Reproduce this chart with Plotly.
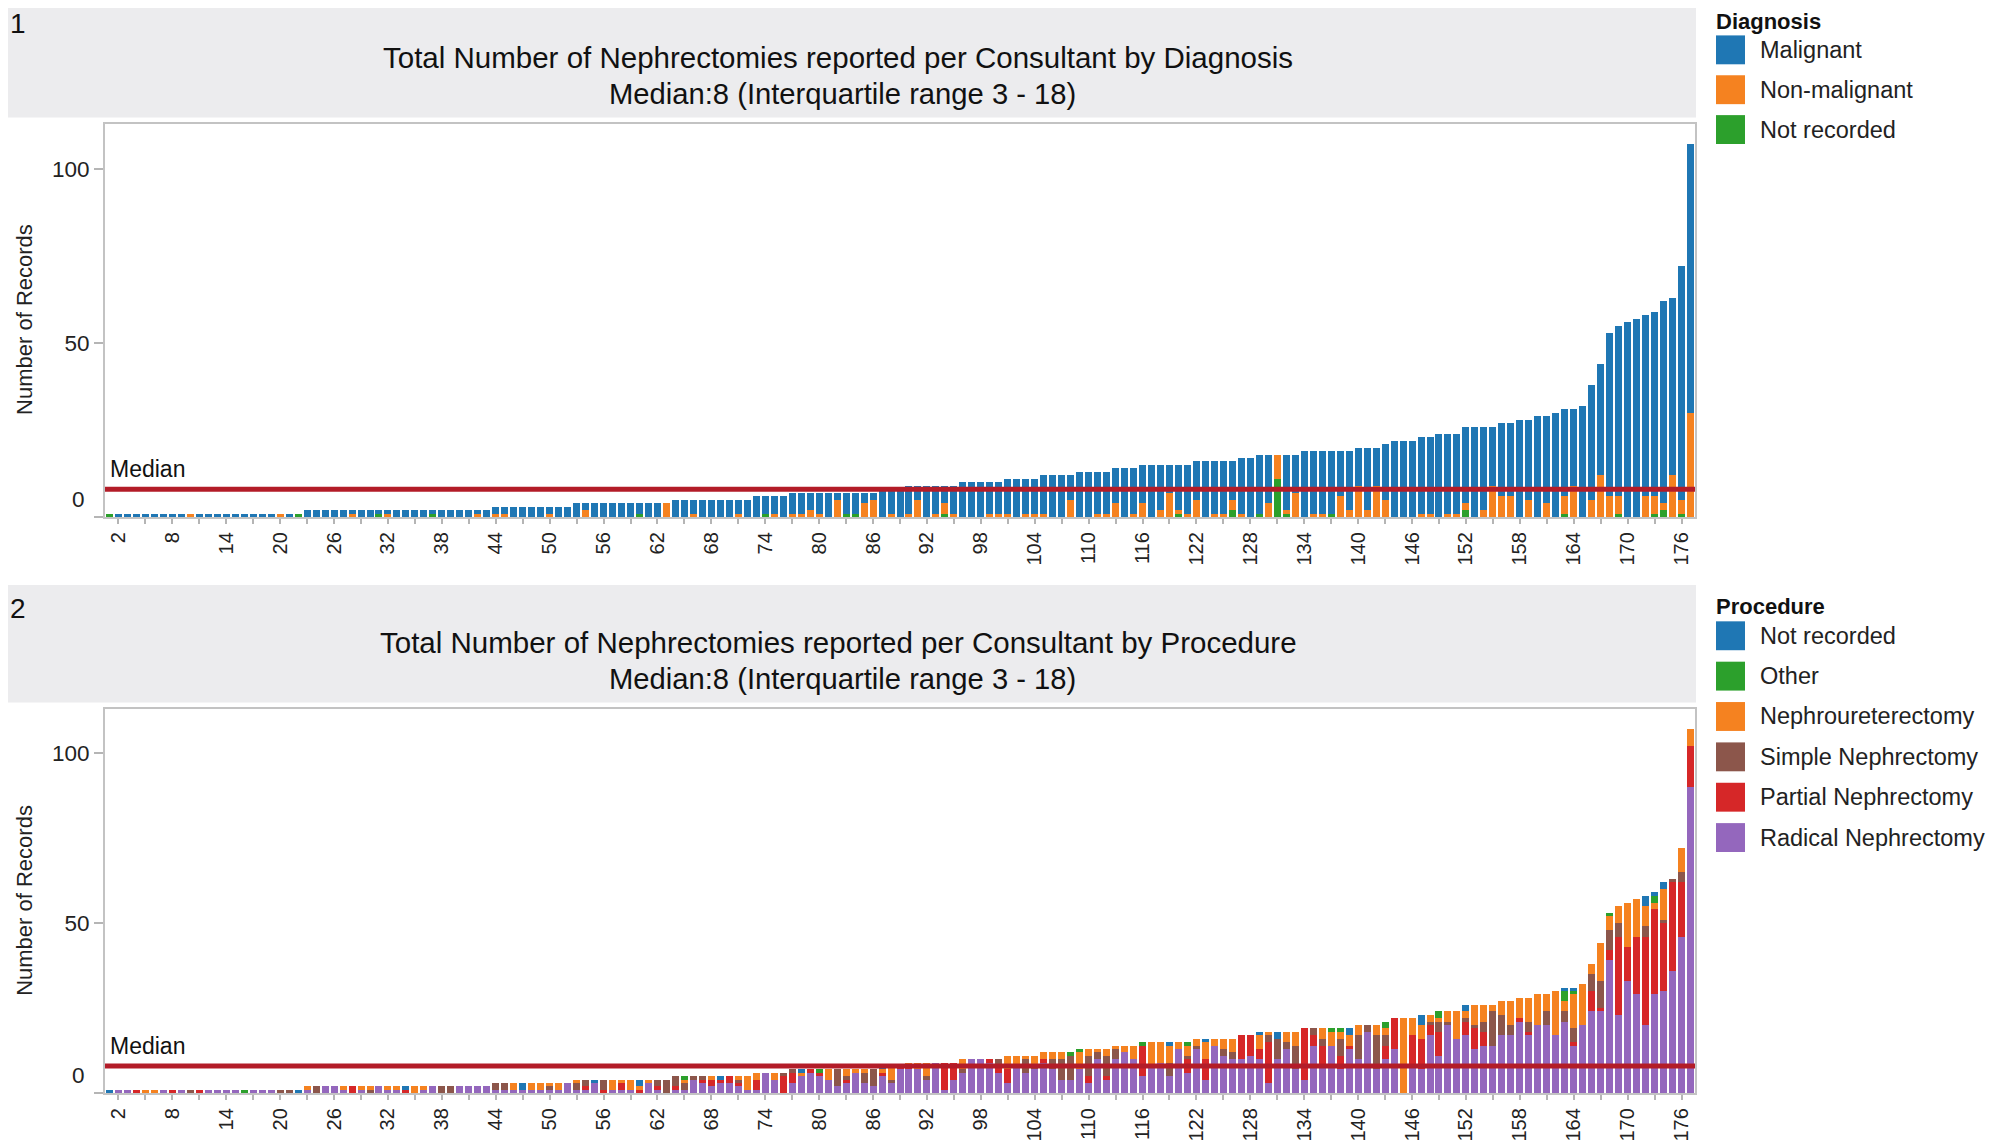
import plotly.graph_objects as go

# page is 2002x1142; the html body has an 8px margin, so the figure is 1994x1134
FW, FH = 1994, 1134
OFF = 8

consultants = list(range(1, 178))

# ---- Chart 1: by diagnosis ----
malignant = [
0,1,1,1,1,1,1,1,1,0,
1,1,1,1,1,1,1,1,1,0,
1,0,2,2,2,2,2,1,2,2,
1,1,2,2,2,2,1,2,2,2,
2,1,2,2,2,3,3,3,3,2,
3,3,4,2,4,4,4,4,4,3,
4,4,0,5,5,4,5,5,5,5,
4,5,6,5,5,6,6,6,5,6,
7,2,6,6,3,2,8,7,8,8,
4,9,8,5,8,10,10,10,9,9,
10,11,10,10,11,12,12,7,13,13,
12,12,10,14,13,11,15,13,8,13,
14,11,16,15,15,11,16,17,17,14,
0,16,11,19,18,18,18,13,17,11,
18,11,16,22,22,22,22,22,24,23,
23,22,26,24,17,21,21,28,23,29,
25,30,25,22,32,33,32,47,49,56,
57,52,53,58,51,67,77]

non_malignant = [
0,0,0,0,0,0,0,0,0,1,
0,0,0,0,0,0,0,0,0,1,
0,0,0,0,0,0,0,1,0,0,
0,1,0,0,0,0,0,0,0,0,
0,1,0,1,1,0,0,0,0,1,
0,0,0,2,0,0,0,0,0,0,
0,0,4,0,0,1,0,0,0,0,
1,0,0,0,1,0,1,1,2,1,
0,5,0,0,4,5,0,1,0,1,
5,0,1,3,1,0,0,0,1,1,
1,0,1,1,1,0,0,5,0,0,
1,1,4,0,1,4,0,2,7,1,
1,5,0,1,1,3,1,0,0,4,
7,1,7,0,1,1,0,6,2,9,
2,9,5,0,0,0,1,1,0,1,
1,2,0,2,9,6,6,0,5,0,
4,0,5,9,0,5,12,6,5,0,
0,6,5,2,12,4,30]

not_recorded_dx = [
1,0,0,0,0,0,0,0,0,0,
0,0,0,0,0,0,0,0,0,0,
0,1,0,0,0,0,0,0,0,0,
1,0,0,0,0,0,1,0,0,0,
0,0,0,0,0,0,0,0,0,0,
0,0,0,0,0,0,0,0,0,1,
0,0,0,0,0,0,0,0,0,0,
0,0,0,1,0,0,0,0,0,0,
0,0,1,1,0,0,0,0,0,0,
0,0,0,1,0,0,0,0,0,0,
0,0,0,0,0,0,0,0,0,0,
0,0,0,0,0,0,0,0,0,1,
0,0,0,0,0,2,0,0,1,0,
11,1,0,0,0,0,1,0,0,0,
0,0,0,0,0,0,0,0,0,0,
0,2,0,0,0,0,0,0,0,0,
0,0,1,0,0,0,0,0,1,0,
0,0,1,2,0,1,0]

# ---- Chart 2: by procedure ----
radical = [
0,1,1,0,0,0,1,0,1,0,
0,1,1,1,1,0,1,1,1,0,
0,0,1,0,2,2,1,0,1,0,
2,1,1,0,0,1,2,0,0,2,
2,2,2,1,1,1,1,1,1,1,
1,3,1,1,3,0,1,1,1,0,
3,1,0,1,1,4,3,2,3,3,
2,1,1,6,4,0,3,5,6,5,
4,2,3,6,3,2,5,3,7,7,
7,4,9,1,4,6,10,10,9,6,
3,8,6,7,9,7,4,4,7,3,
10,4,10,12,10,5,8,9,5,13,
6,13,4,14,11,10,10,11,10,3,
10,13,7,4,14,8,14,7,13,10,
18,7,10,13,0,8,7,17,11,20,
16,17,13,14,14,17,17,21,17,20,
20,17,21,14,20,24,24,39,23,33,
29,20,29,30,36,46,90]

partial = [
0,0,0,1,0,0,0,1,0,0,
1,0,0,0,0,0,0,0,0,0,
0,0,0,0,0,0,0,2,0,0,
0,0,0,1,0,0,0,0,0,0,
0,0,0,0,0,0,0,0,0,0,
0,0,0,1,0,1,0,2,0,1,
0,1,0,1,0,0,1,2,1,2,
1,0,3,0,0,5,3,0,1,1,
0,0,1,0,0,0,1,0,1,1,
0,0,0,8,5,0,0,0,1,2,
4,0,0,0,1,0,0,0,0,2,
0,1,0,0,0,9,0,0,0,0,
4,0,6,0,0,0,7,6,3,12,
0,0,0,15,3,6,0,4,1,0,
0,0,4,9,0,9,9,3,7,0,
0,4,6,4,0,0,0,1,1,0,
0,0,0,1,0,6,1,3,23,10,
17,26,25,20,26,16,12]

simple = [
0,0,0,0,0,0,0,0,0,1,
0,0,0,0,0,0,0,0,0,1,
1,0,0,2,0,0,0,0,0,1,
0,0,0,0,0,0,0,2,2,0,
0,0,0,2,2,0,0,0,0,1,
0,0,2,2,0,3,0,0,0,0,
0,2,4,3,2,1,1,0,0,0,
1,0,0,0,0,1,1,0,0,0,
0,5,1,0,3,5,0,1,0,0,
0,1,0,0,0,1,0,0,0,2,
0,0,4,1,0,3,6,7,0,6,
2,6,3,0,0,0,0,0,4,0,
1,1,0,0,2,2,0,0,0,2,
6,2,7,0,2,2,0,5,0,7,
2,10,3,0,0,0,0,1,3,1,
0,1,1,3,10,6,3,0,3,0,
4,0,3,4,0,5,8,6,4,0,
0,3,0,1,1,3,0]

nephroureterectomy = [
0,0,0,0,1,1,0,0,0,0,
0,0,0,0,0,0,0,0,0,0,
0,0,1,0,0,0,1,0,1,1,
0,1,1,0,2,1,0,0,0,0,
0,0,0,0,0,2,0,2,2,1,
2,0,1,0,0,0,3,1,3,1,
1,0,0,0,1,0,0,1,0,0,
1,4,2,0,2,0,0,1,0,0,
3,0,2,1,1,0,1,4,0,1,
2,4,0,0,0,3,0,0,0,0,
4,3,1,3,2,2,2,0,5,2,
1,2,1,2,4,0,7,6,5,2,
3,2,5,2,3,4,0,0,4,1,
0,3,4,0,0,3,4,2,3,3,
0,3,2,0,22,5,4,2,1,3,
8,2,6,5,2,4,7,6,7,9,
5,13,3,10,12,3,11,4,5,13,
11,6,2,9,0,7,5]

other = [
0,0,0,0,0,0,0,0,0,0,
0,0,0,0,0,1,0,0,0,0,
0,0,0,0,0,0,0,0,0,0,
0,0,0,0,0,0,0,0,0,0,
0,0,0,0,0,0,0,0,0,0,
0,0,0,0,0,0,0,0,0,0,
0,0,0,0,1,0,0,0,0,0,
0,0,0,0,0,0,0,0,0,1,
0,0,0,0,0,0,0,0,0,0,
0,0,0,0,0,0,0,0,0,0,
0,0,0,0,0,0,0,1,1,0,
0,0,0,0,0,1,0,0,0,0,
1,0,0,0,0,0,0,0,0,0,
0,0,0,0,0,0,1,1,0,0,
0,0,2,0,0,0,0,0,2,0,
0,0,0,0,0,0,0,0,0,0,
0,0,3,1,0,0,0,1,0,0,
0,0,2,0,0,0,0]

not_recorded_proc = [
1,0,0,0,0,0,0,0,0,0,
0,0,0,0,0,0,0,0,0,0,
0,1,0,0,0,0,0,0,0,0,
0,0,0,1,0,0,0,0,0,0,
0,0,0,0,0,0,2,0,0,0,
0,0,0,0,1,0,0,0,0,2,
0,0,0,0,0,0,0,0,1,0,
0,0,0,0,0,0,0,1,0,0,
0,0,0,0,0,0,1,0,0,0,
0,0,0,0,0,0,0,0,0,0,
0,0,0,0,0,0,0,0,0,0,
0,0,0,0,0,0,0,0,1,0,
0,0,1,0,0,0,0,0,1,0,
2,0,0,0,0,0,0,0,2,0,
0,0,0,0,0,0,3,0,0,0,
0,2,0,0,0,0,0,0,0,0,
0,0,1,1,0,0,0,0,0,0,
0,3,1,2,0,0,0]

median_value = 8
titles = [
    ("Total Number of Nephrectomies reported per Consultant by Diagnosis",
     "Median:8 (Interquartile range 3 - 18)"),
    ("Total Number of Nephrectomies reported per Consultant by Procedure",
     "Median:8 (Interquartile range 3 - 18)"),
]
tick_positions = list(range(2, 178, 3))
tick_labels = [str(v) if (v - 2) % 6 == 0 else "" for v in tick_positions]

BLUE, ORANGE, GREEN = "#1f77b4", "#f58220", "#2ca02c"
RED, PURPLE, BROWN = "#d62728", "#9467bd", "#8c564b"
MEDIAN_RED = "#b31c28"
FONT = "Liberation Sans, Arial, sans-serif"

dx_series = [("Not recorded", not_recorded_dx, GREEN),
             ("Non-malignant", non_malignant, ORANGE),
             ("Malignant", malignant, BLUE)]
proc_series = [("Radical Nephrectomy", radical, PURPLE),
               ("Partial Nephrectomy", partial, RED),
               ("Simple Nephrectomy", simple, BROWN),
               ("Nephroureterectomy", nephroureterectomy, ORANGE),
               ("Other", other, GREEN),
               ("Not recorded", not_recorded_proc, BLUE)]

fig = go.Figure()
for name, vals, col in dx_series:
    fig.add_trace(go.Bar(x=consultants, y=vals, name=name, marker_color=col,
                         marker_line_width=0, xaxis="x", yaxis="y", showlegend=False))
for name, vals, col in proc_series:
    fig.add_trace(go.Bar(x=consultants, y=vals, name=name, marker_color=col,
                         marker_line_width=0, xaxis="x2", yaxis="y2", showlegend=False))


def px(x):
    # page x (pixels) -> paper fraction
    return max(0.0, (x - OFF) / FW)


def py(y):
    # page y (pixels from top) -> paper fraction
    return min(1.0, 1 - (y - OFF) / FH)


XDOM = [px(105), px(1695)]
axis_common = dict(showline=True, linecolor="#c3c3c3", linewidth=2, mirror=True,
                   showgrid=False, zeroline=False)
xax = dict(axis_common, domain=XDOM, range=[0.5, 177.5], tickmode="array",
           tickvals=tick_positions, ticktext=tick_labels, tickangle=-90,
           ticks="outside", ticklen=5, tickwidth=2, tickcolor="#b5b5b5",
           tickfont=dict(family=FONT, size=20, color="#222"))
yax = dict(axis_common, range=[0, 113], tickmode="array", tickvals=[0, 50, 100],
           ticktext=["", "50", "100"], ticks="outside", ticklen=9, tickwidth=2,
           tickcolor="#b5b5b5", tickfont=dict(family=FONT, size=22.5, color="#222"))

fig.update_layout(
    width=FW, height=FH, margin=dict(l=0, r=0, t=0, b=0),
    paper_bgcolor="white", plot_bgcolor="white", barmode="stack", bargap=0.22,
    font=dict(family=FONT, color="#222"),
    xaxis=dict(xax, anchor="y"),
    yaxis=dict(yax, domain=[py(519), py(124)], anchor="x"),
    xaxis2=dict(xax, anchor="y2"),
    yaxis2=dict(yax, domain=[py(1097), py(711)], anchor="x2"),
)

shapes = []
annotations = []
panels = [(0, "x", "y", 321, "Diagnosis",
           [("Malignant", BLUE), ("Non-malignant", ORANGE), ("Not recorded", GREEN)], 50, 40),
          (587, "x2", "y2", 904, "Procedure",
           [("Not recorded", BLUE), ("Other", GREEN), ("Nephroureterectomy", ORANGE),
            ("Simple Nephrectomy", BROWN), ("Partial Nephrectomy", RED),
            ("Radical Nephrectomy", PURPLE)], 638, 40.5)]
for i, (top, xr, yr, ymid, ltitle, litems, ly0, lstep) in enumerate(panels):
    # header band
    shapes.append(dict(type="rect", xref="paper", yref="paper", x0=px(8), x1=px(1696),
                       y0=py(top + 118), y1=py(top), fillcolor="#ececee", line_width=0, layer="below"))
    annotations.append(dict(text=str(i + 1), xref="paper", yref="paper", x=px(9), y=py(top + 24),
                            xanchor="left", yanchor="middle", showarrow=False, borderpad=0,
                            font=dict(family=FONT, size=28, color="#111")))
    annotations.append(dict(text=titles[i][0], xref="paper", yref="paper", x=px(838), y=py(top + 58),
                            xanchor="center", yanchor="middle", showarrow=False,
                            font=dict(family=FONT, size=29.5, color="#111")))
    annotations.append(dict(text=titles[i][1], xref="paper", yref="paper", x=px(842), y=py(top + 94),
                            xanchor="center", yanchor="middle", showarrow=False,
                            font=dict(family=FONT, size=29.2, color="#111")))
    # median line + label
    shapes.append(dict(type="line", xref=xr + " domain", yref=yr, x0=0, x1=1,
                       y0=median_value, y1=median_value, line=dict(color=MEDIAN_RED, width=5)))
    annotations.append(dict(text="Median", xref=xr + " domain", yref=yr, x=0.002, y=median_value,
                            xanchor="left", yanchor="middle", yshift=20, showarrow=False,
                            bgcolor="white", font=dict(family=FONT, size=23, color="#111")))
    # zero tick label (raised like the original)
    annotations.append(dict(text="0", xref="paper", yref=yr, x=px(87), y=0, xanchor="right",
                            yanchor="middle", yshift=18, showarrow=False,
                            font=dict(family=FONT, size=22.5, color="#222")))
    # y axis title
    annotations.append(dict(text="Number of Records", xref="paper", yref="paper", x=px(25), y=py(ymid),
                            xanchor="center", yanchor="middle", textangle=-90, showarrow=False,
                            font=dict(family=FONT, size=22, color="#222")))
    # legend
    annotations.append(dict(text="<b>" + ltitle + "</b>", xref="paper", yref="paper", x=px(1715),
                            y=py(top + 8), xanchor="left", yanchor="top", showarrow=False, borderpad=0,
                            font=dict(family=FONT, size=22, color="#111")))
    for j, (lab, col) in enumerate(litems):
        cy = ly0 + lstep * j
        shapes.append(dict(type="rect", xref="paper", yref="paper", x0=px(1716), x1=px(1745),
                           y0=py(cy + 14.5), y1=py(cy - 14.5), fillcolor=col, line_width=0))
        annotations.append(dict(text=lab, xref="paper", yref="paper", x=px(1758), y=py(cy),
                                xanchor="left", yanchor="middle", showarrow=False,
                                font=dict(family=FONT, size=23.5, color="#222")))

fig.update_layout(shapes=shapes, annotations=annotations)
fig.write_html("out.html")
